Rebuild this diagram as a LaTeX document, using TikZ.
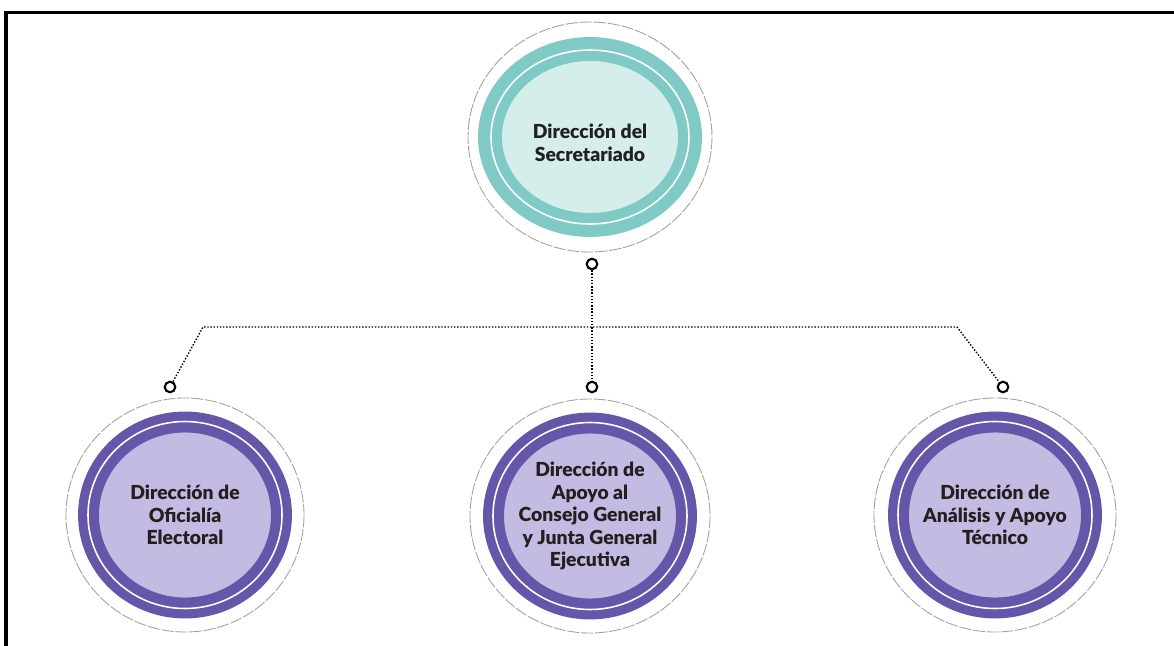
\documentclass[tikz,border=0pt]{standalone}
\usepackage{fontspec}
\setmainfont{Lato}[BoldFont={Lato Black}]
\usetikzlibrary{shapes.geometric}
\definecolor{ink}{HTML}{231F20}
\definecolor{teal}{HTML}{7FCAC4}
\definecolor{tealpale}{HTML}{D5EEEB}
\definecolor{violet}{HTML}{6656A9}
\definecolor{violetpale}{HTML}{C3BBE2}
\definecolor{halo}{HTML}{A8A09B}

\begin{document}
\begin{tikzpicture}[x=.02cm,y=-.02cm,text=ink,
    unit/.style={ellipse,inner sep=0pt,align=center,
      font=\fontsize{11}{12.8}\selectfont\bfseries},
    halo/.style={draw=halo,line width=.5pt,dash pattern=on 7pt off 1pt},
    link/.style={line width=.8pt,densely dotted},
    port/.style={circle,draw,fill=white,line width=1.2pt,
      inner sep=0pt,minimum size=6pt}]
  \useasboundingbox (0,0) rectangle (1174,646);
  \draw[line width=2pt] (6,646) -- (6,12.5) -- (1174,12.5);

  \coordinate (secmid) at (590,137);
  \fill[tealpale] (secmid) ellipse[x radius=90,y radius=78];
  \draw[teal,line width=13.6pt] (secmid) ellipse[x radius=100,y radius=88];
  \draw[white,line width=.9pt] (secmid) ellipse[x radius=99,y radius=87];
  \draw[halo] (secmid) ellipse[x radius=122,y radius=115];
  \node[unit] (sec) at (590,143) {Dirección del\\Secretariado};

  \node[unit,fill=violetpale,minimum width=3.48cm,minimum height=3.32cm]
    (ofi) at (185,515) {Dirección de\\Oficialía\\Electoral};
  \draw[violet,line width=11.9pt] (ofi.center) ellipse[x radius=96.5,y radius=93];
  \draw[white,line width=.9pt] (ofi.center) ellipse[x radius=97,y radius=93.5];
  \draw[halo] (ofi.center) ellipse[x radius=119,y radius=117];

  \node[unit,fill=violetpale,minimum width=3.48cm,minimum height=3.32cm]
    (apo) at (590,516) {Dirección de\\Apoyo al\\Consejo General\\y Junta General\\Ejecutiva};
  \draw[violet,line width=11.9pt] (apo.center) ellipse[x radius=96.5,y radius=93];
  \draw[white,line width=.9pt] (apo.center) ellipse[x radius=97,y radius=93.5];
  \draw[halo] (apo.center) ellipse[x radius=120,y radius=117];

  \node[unit,fill=violetpale,minimum width=3.48cm,minimum height=3.32cm]
    (ana) at (995,515) {Dirección de\\Análisis y Apoyo\\Técnico};
  \draw[violet,line width=11.9pt] (ana.center) ellipse[x radius=96.5,y radius=93];
  \draw[white,line width=.9pt] (ana.center) ellipse[x radius=97,y radius=93.5];
  \draw[halo] (ana.center) ellipse[x radius=121,y radius=117];

  \node[port] (secport) at (592,264) {};
  \node[port] (ofiport) at (170,387) {};
  \node[port] (apoport) at (592,387) {};
  \node[port] (anaport) at (1003,387) {};
  \coordinate (bendL) at (203,327);
  \coordinate (bendR) at (957,327);

  \draw[link] (secport) -- (apoport);
  \draw[link] (ofiport) -- (bendL) -- (bendR) -- (anaport);
\end{tikzpicture}
\end{document}
